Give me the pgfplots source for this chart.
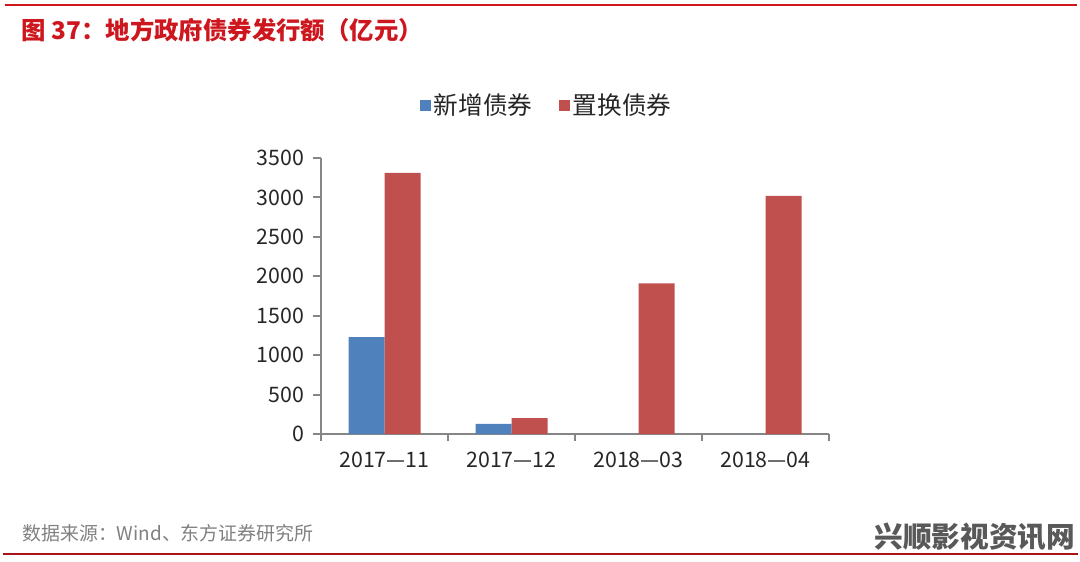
\documentclass[border=0pt]{standalone}
\usepackage{fontspec}
\setmainfont{Noto Sans CJK SC}
\usepackage{pgfplots}
\pgfplotsset{compat=1.18}
\definecolor{newblue}{RGB}{79,129,189}
\definecolor{swapred}{RGB}{192,80,77}
\definecolor{titlered}{RGB}{205,22,30}
\definecolor{footred}{RGB}{170,18,24}
\definecolor{axisgray}{RGB}{134,134,134}
\begin{document}
\begin{tikzpicture}
% page frame 1080x561 px at 0.75pt/px
\path (0,0) rectangle (810pt,420.75pt);
\draw[titlered, line width=1.6pt] (3.75pt,417pt) -- (808pt,417pt);
\draw[footred, line width=2.2pt] (2pt,5.25pt) -- (808.5pt,5.25pt);
\node[anchor=west, text=titlered, font=\fontsize{18.3pt}{20pt}\selectfont\bfseries, inner sep=0pt] at (16pt,398.25pt) {图 37：地方政府债券发行额（亿元）};
\node[anchor=west, text={black!50}, font=\fontsize{14.2pt}{16pt}\selectfont, inner sep=0pt] at (16.5pt,21pt) {数据来源：Wind、东方证券研究所};
\node[anchor=east, text={black!65}, font=\fontsize{21.5pt}{24pt}\selectfont\bfseries, inner sep=0pt] at (806.5pt,18pt) {兴顺影视资讯网};

\begin{axis}[
  at={(240.75pt,95.25pt)}, anchor=south west,
  scale only axis, width=381pt, height=207pt,
  ybar=0pt, bar width=27pt,
  xmin=-0.5, xmax=3.5, ymin=0, ymax=3500,
  axis x line*=bottom, axis y line*=left,
  axis line style={axisgray, line width=1.4pt},
  xtick={0,1,2,3},
  xticklabels={\mbox{2017—11},\mbox{2017—12},\mbox{2018—03},\mbox{2018—04}},
  minor xtick={-0.5,0.5,1.5,2.5,3.5},
  x tick style={draw=none},
  minor x tick style={draw=axisgray, line width=1.4pt},
  ytick={0,500,...,3500},
  y tick style={axisgray, line width=1.4pt},
  tick align=outside, major tick length=6pt, minor tick length=5pt,
  /pgf/number format/assume math mode=true,
  ticklabel style={font=\fontsize{16pt}{18pt}\selectfont, text={black!85}},
  xticklabel style={yshift=-4pt},
  yticklabel style={xshift=-3pt},
  yticklabel={\pgfmathprintnumber[fixed, 1000 sep={}]{\tick}},
  legend columns=2,
  legend style={draw=none, fill=none, at={(0.445,1.19)}, anchor=center,
    font=\fontsize{18.5pt}{20pt}\selectfont, text={black!85},
    /tikz/every even column/.append style={column sep=18pt}},
  legend image code/.code={\fill[#1] (0pt,-4.1pt) rectangle (8.3pt,4.2pt);},
]
\addplot[fill=newblue, draw=none] coordinates {(0,1230) (1,130) (2,0) (3,0)};
\addplot[fill=swapred, draw=none] coordinates {(0,3310) (1,200) (2,1910) (3,3020)};
\legend{新增债券,置换债券}
\end{axis}
\end{tikzpicture}
\end{document}
